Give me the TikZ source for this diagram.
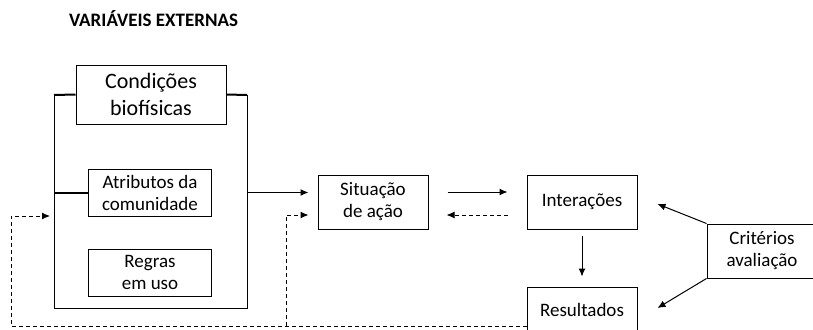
\documentclass[tikz,border=0pt]{standalone}
\usepackage{fontspec}
\setmainfont{Carlito}
\usetikzlibrary{arrows.meta}
\usetikzlibrary{positioning}
\tikzset{block/.style={draw, line width=1pt, text centered, align=center, inner sep=0pt, font=\fontsize{19}{22}\selectfont}}
\tikzset{connect/.style={draw, line width=1pt}}
\tikzset{feedback/.style={draw, line width=1pt, dash pattern=on 4pt off 3pt}}
\tikzset{thickbar/.style={draw, line width=2pt}}
\begin{document}
\begin{tikzpicture}[x=1pt,y=-1pt,>={Latex[length=8pt,width=7pt]}]
\clip (0,0) rectangle (813,329);

\node[font=\fontsize{19}{22}\selectfont\bfseries] (title) at (153.5,19) {VARIÁVEIS EXTERNAS};

\node[block,minimum width=150pt,minimum height=59pt,font=\fontsize{22}{27}\selectfont] (cond) at (151,94.5) {Condições\\biofísicas};
\node[block,minimum width=123pt,minimum height=47pt] (attr) at (150,192.5) {Atributos da\\comunidade};
\node[block,minimum width=123pt,minimum height=47pt] (rules) at (150,272.5) {Regras\\em uso};

\node[block,minimum width=110pt,minimum height=54pt] (sit) at (373,202) {Situação\\de ação};
\node[block,minimum width=110pt,minimum height=54pt] (inter) at (582,202) {Interações};
\node[block,minimum width=110pt,minimum height=46pt] (res) at (582,310) {Resultados};
\node[block,minimum width=110pt,minimum height=54pt] (crit) at (762,251) {Critérios\\avaliação};

% frame of the external variables
\coordinate (frameNW) at (54,95);
\coordinate (frameNE) at (247,95);
\coordinate (frameSE) at (247,308);
\path[thickbar] (frameNW) -- (cond.west);
\path[thickbar] (cond.east) -- (frameNE);
\path[connect] (frameNW) -- (frameNW |- frameSE) -- (frameSE) -- (frameNE);
\path[thickbar] (frameNW |- attr.west) -- (attr.west);

\path[connect,->] (frameNE |- attr.east) -- ([xshift=-9pt]sit.west |- attr.east);
\path[connect,->] ([xshift=19pt,yshift=10pt]sit.east) -- ([xshift=-19pt,yshift=10pt]inter.west);
\path[feedback,->] ([xshift=-19pt,yshift=-13pt]inter.west) -- ([xshift=18pt,yshift=-13pt]sit.east);
\path[connect,->] ([yshift=-6pt]inter.south) -- ([yshift=10pt]res.north);

\path[connect,->] (crit.north west) -- ([xshift=20pt,yshift=-2pt]inter.east);
\path[connect,->] (crit.south west) -- ([xshift=20pt,yshift=2pt]res.east);

% feedback from outcomes
\coordinate (loopSW) at (11,326);
\coordinate (branch) at (286,326);
\path[feedback,->] ([yshift=-16pt]res.west) -- (loopSW) -- (11,216) -- (50,216);
\path[feedback,->] (branch) -- (286,215) -- ([xshift=-9pt,yshift=-13pt]sit.west);

\end{tikzpicture}
\end{document}
